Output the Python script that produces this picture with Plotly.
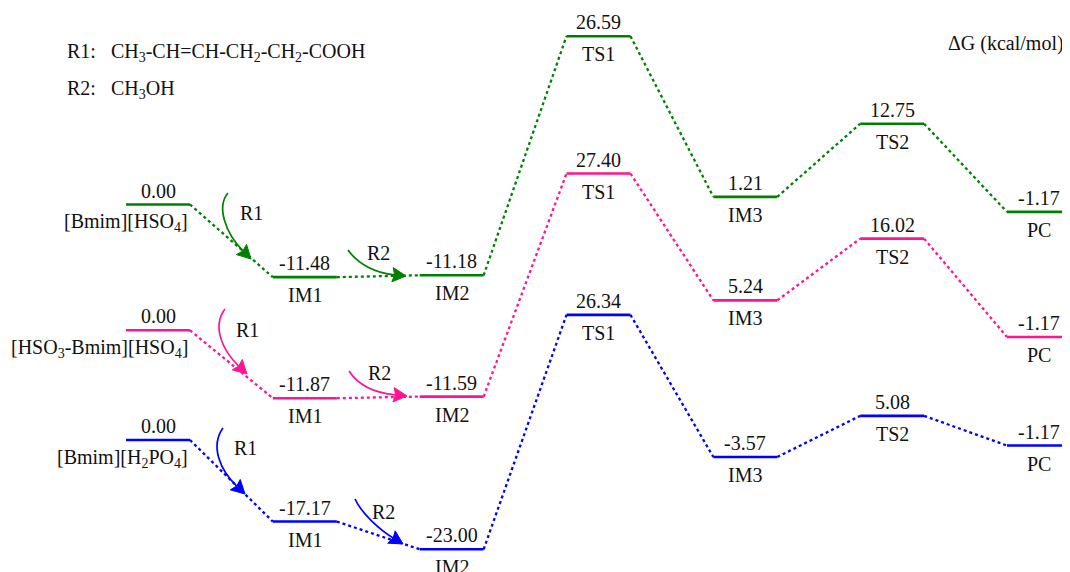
import plotly.graph_objects as go

# ---------------- data ----------------
stages = ["start", "IM1", "IM2", "TS1", "IM3", "TS2", "PC"]
stage_labels = ["", "IM1", "IM2", "TS1", "IM3", "TS2", "PC"]
catalysts = ["[Bmim][HSO<sub>4</sub>]",
             "[HSO<sub>3</sub>-Bmim][HSO<sub>4</sub>]",
             "[Bmim][H<sub>2</sub>PO<sub>4</sub>]"]
green_vals = [0.00, -11.48, -11.18, 26.59, 1.21, 12.75, -1.17]
pink_vals = [0.00, -11.87, -11.59, 27.40, 5.24, 16.02, -1.17]
blue_vals = [0.00, -17.17, -23.00, 26.34, -3.57, 5.08, -1.17]
colors = ["#008000", "#FF1493", "#0000FF"]
series = [green_vals, pink_vals, blue_vals]

# ---------------- layout calibration ----------------
OFF = 8                      # page body margin in the browser
W, H = 1070, 572 - OFF
FONT = "Liberation Serif"
FS = 20
x0px, dxpx = 158.0 - OFF, 146.83          # pixel center of stage 0, spacing
hw = 32.0 / dxpx                          # half width of a level line
ycal = [(204.5 - OFF, 6.33), (330.3 - OFF, 5.72), (440.0 - OFF, 4.75)]
yaxes = ["y", "y2", "y3"]
TF = dict(family=FONT, size=FS, color="#111111")

fig = go.Figure()
annotations = []
shapes = []

for k, (vals, col, ya) in enumerate(zip(series, colors, yaxes)):
    lx, ly, cx, cy = [], [], [], []
    for i, v in enumerate(vals):
        lx += [i - hw, i + hw, None]
        ly += [v, v, None]
        if i < len(vals) - 1:
            cx += [i + hw, i + 1 - hw, None]
            cy += [v, vals[i + 1], None]
    fig.add_trace(go.Scatter(x=cx, y=cy, mode="lines", yaxis=ya,
                             line=dict(color=col, width=2.3, dash="dot"),
                             hoverinfo="skip", showlegend=False))
    fig.add_trace(go.Scatter(x=lx, y=ly, mode="lines", yaxis=ya,
                             line=dict(color=col, width=2.6),
                             hoverinfo="skip", showlegend=False))
    for i, v in enumerate(vals):
        annotations.append(dict(x=i, y=v, xref="x", yref=ya, text=f"{v:.2f}",
                                showarrow=False, yshift=14, xanchor="center",
                                yanchor="middle", font=TF))
        if i == 0:
            annotations.append(dict(x=i + hw, y=v, xref="x", yref=ya,
                                    text=catalysts[k], showarrow=False,
                                    yshift=-18, xanchor="right", yanchor="middle",
                                    font=TF))
        else:
            annotations.append(dict(x=i, y=v, xref="x", yref=ya,
                                    text=stage_labels[i], showarrow=False,
                                    yshift=-18, xanchor="center", yanchor="middle",
                                    font=TF))

# ---------------- curved reaction arrows (decoration, pixel positions) ----------------
def P(x, y):
    return (x - OFF) / W, 1 - (y - OFF) / H

arrows = [
    # color idx, label, S, C1, C2, tip, label pos   (reference pixels)
    (0, "R1", (228, 193), (216, 207), (226, 234), (251, 259), (252, 213)),
    (0, "R2", (348, 250), (358, 264), (375, 273), (406, 276), (378, 253)),
    (1, "R1", (225, 309), (212, 326), (222, 350), (247, 374), (247, 330)),
    (1, "R2", (349, 371), (358, 385), (375, 393), (407, 396), (379, 373)),
    (2, "R1", (223, 428), (210, 446), (220, 470), (245, 494), (245, 448)),
    (2, "R2", (355, 499), (362, 514), (380, 530), (403, 544), (383, 512)),
]
L, w = 13.5, 7.2
for ci, lab, S, C1, C2, T, LP in arrows:
    col = colors[ci]
    dx, dy = T[0] - C2[0], T[1] - C2[1]
    n = (dx * dx + dy * dy) ** 0.5
    dx, dy = dx / n, dy / n
    nx, ny = -dy, dx
    E = (T[0] - dx * L * 0.85, T[1] - dy * L * 0.85)
    pts = [P(*S), P(*C1), P(*C2), P(*E)]
    path = "M{:.5f},{:.5f} C{:.5f},{:.5f} {:.5f},{:.5f} {:.5f},{:.5f}".format(
        *pts[0], *pts[1], *pts[2], *pts[3])
    shapes.append(dict(type="path", xref="paper", yref="paper", path=path,
                       line=dict(color=col, width=1.7)))
    B1 = (T[0] - dx * L + nx * w, T[1] - dy * L + ny * w)
    B2 = (T[0] - dx * L - nx * w, T[1] - dy * L - ny * w)
    hp = [P(*T), P(*B1), P(*E), P(*B2)]
    hpath = "M{:.5f},{:.5f} L{:.5f},{:.5f} L{:.5f},{:.5f} L{:.5f},{:.5f} Z".format(
        *hp[0], *hp[1], *hp[2], *hp[3])
    shapes.append(dict(type="path", xref="paper", yref="paper", path=hpath,
                       line=dict(color=col, width=1), fillcolor=col))
    lx_, ly_ = P(*LP)
    annotations.append(dict(x=lx_, y=ly_, xref="paper", yref="paper", text=lab,
                            showarrow=False, xanchor="center", yanchor="middle",
                            font=TF))

# ---------------- header texts ----------------
nb = "\u00a0"
x_, y_ = P(65, 53)
annotations.append(dict(x=x_, y=y_, xref="paper", yref="paper",
                        text="R1:" + nb * 3 + "CH<sub>3</sub>-CH=CH-CH<sub>2</sub>-CH<sub>2</sub>-COOH",
                        showarrow=False, xanchor="left", yanchor="middle", font=TF))
x_, y_ = P(65, 90)
annotations.append(dict(x=x_, y=y_, xref="paper", yref="paper",
                        text="R2:" + nb * 3 + "CH<sub>3</sub>OH",
                        showarrow=False, xanchor="left", yanchor="middle", font=TF))
x_, y_ = P(1066, 43)
annotations.append(dict(x=x_, y=y_, xref="paper", yref="paper",
                        text="ΔG (kcal/mol)", showarrow=False, xanchor="right",
                        yanchor="middle", font=TF))

yl = {}
for k, ya in enumerate(yaxes):
    b, s = ycal[k]
    key = "yaxis" if ya == "y" else "yaxis" + ya[1:]
    d = dict(range=[(b - H) / s, b / s], visible=False, fixedrange=True)
    if ya != "y":
        d["overlaying"] = "y"
    yl[key] = d

fig.update_layout(
    width=W, height=H, margin=dict(l=0, r=0, t=0, b=0),
    paper_bgcolor="white", plot_bgcolor="white",
    font=TF,
    xaxis=dict(range=[-x0px / dxpx, (W - x0px) / dxpx], visible=False, fixedrange=True),
    annotations=annotations, shapes=shapes, showlegend=False,
    **yl,
)
fig.write_html("out.html")
